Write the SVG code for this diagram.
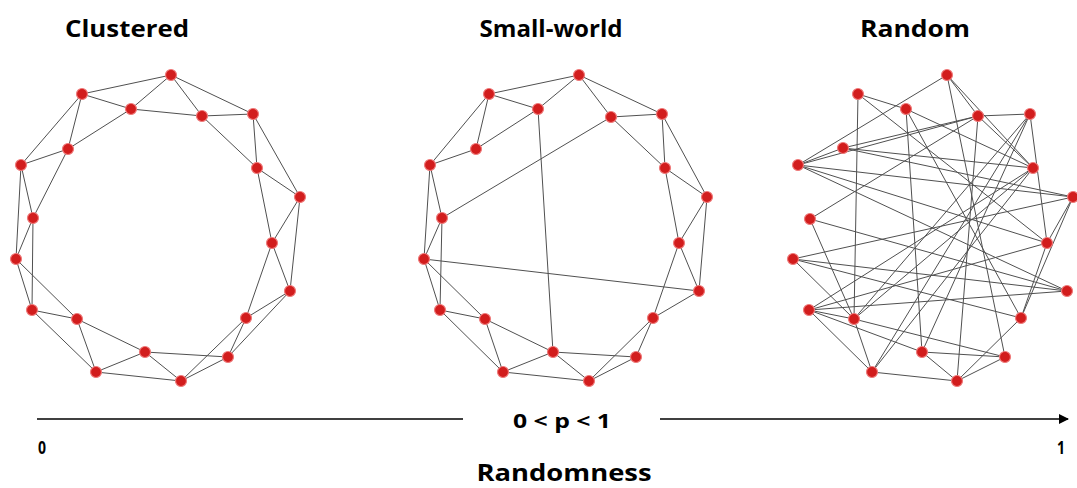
<svg xmlns="http://www.w3.org/2000/svg" width="1077" height="488" viewBox="0 0 1077 488">
<style>
.e{stroke:#505050;stroke-width:1;fill:none}
.n{fill:#d21d1d;stroke:#ef7a7a;stroke-width:1.2}
.t{font-family:"Open Sans","DejaVu Sans",sans-serif;font-weight:bold;fill:#000}
</style>
<defs>
<marker id="arr" markerWidth="10" markerHeight="10" refX="9" refY="5" orient="auto" markerUnits="userSpaceOnUse">
<path d="M0,0 L10,5 L0,10 Z" fill="#000"/>
</marker>
</defs>
<rect width="1077" height="488" fill="#fff"/>
<g id="titles">
<text class="t" x="127" y="37" font-size="23" text-anchor="middle" textLength="124" lengthAdjust="spacingAndGlyphs">Clustered</text>
<text class="t" x="551" y="37" font-size="23" text-anchor="middle" textLength="143" lengthAdjust="spacingAndGlyphs">Small-world</text>
<text class="t" x="915" y="37" font-size="23" text-anchor="middle" textLength="110" lengthAdjust="spacingAndGlyphs">Random</text>
</g>
<g id="connectors">
<!-- clustered -->
<path class="e" d="M171,75L202,116M171,75L253,114M202,116L253,114M202,116L257,168M253,114L257,168M253,114L300,197M257,168L300,197M257,168L272,243M300,197L272,243M300,197L290,291M272,243L290,291M272,243L246,318M290,291L246,318M290,291L228,357M246,318L228,357M246,318L181,381M228,357L181,381M228,357L145,352M181,381L145,352M181,381L96,372M145,352L96,372M145,352L77,319M96,372L77,319M96,372L32,310M77,319L32,310M77,319L16,259M32,310L16,259M32,310L33,218M16,259L33,218M16,259L21,165M33,218L21,165M33,218L68,149M21,165L68,149M21,165L82,94M68,149L82,94M68,149L131,109M82,94L131,109M82,94L171,75M131,109L171,75M131,109L202,116"/>
<!-- small-world -->
<path class="e" d="M579,75L489,94M579,75L538,109M579,75L611,117M579,75L662,114M489,94L538,109M489,94L476,149M489,94L430,165M538,109L476,149M538,109L553,352M611,117L662,114M611,117L665,168M611,117L442,218M662,114L665,168M662,114L707,197M665,168L707,197M665,168L679,243M707,197L679,243M707,197L699,291M679,243L699,291M679,243L653,318M699,291L653,318M699,291L424,259M653,318L636,357M653,318L589,381M636,357L589,381M636,357L553,352M589,381L553,352M589,381L503,372M553,352L503,372M553,352L485,319M503,372L485,319M503,372L440,310M485,319L440,310M485,319L424,259M440,310L424,259M440,310L442,218M424,259L442,218M424,259L430,165M442,218L430,165M430,165L476,149"/>
<!-- random -->
<path class="e" d="M947,75L798,165M947,75L978,116M947,75L1033,168M947,75L1005,357M858,94L854,319M858,94L906,109M858,94L1047,243M906,109L922,352M906,109L1033,168M906,109L1021,318M978,116L1030,114M978,116L798,165M978,116L1033,168M978,116L957,381M1030,114L854,319M1030,114L872,372M1030,114L1047,243M1030,114L922,352M843,148L798,165M843,148L1033,168M843,148L978,116M843,148L1073,197M798,165L1047,243M798,165L1067,291M810,219L978,116M810,219L1067,291M810,219L854,319M793,259L1073,197M793,259L1067,291M793,259L854,319M809,310L854,319M809,310L922,352M809,310L872,372M809,310L1033,168M809,310L1067,291M854,319L1005,357M854,319L872,372M854,319L1033,168M1047,243L1021,318M1047,243L1073,197M1021,318L957,381M1005,357L957,381M922,352L1005,357M922,352L957,381M872,372L957,381M1073,197L1021,318M798,165L1073,197M793,259L1021,318M809,310L1047,243M872,372L1033,168"/>
<!-- axis -->
<line x1="37" y1="419" x2="463" y2="419" stroke="#000" stroke-width="1.5"/>
<line x1="660" y1="419" x2="1068" y2="419" stroke="#000" stroke-width="1.5" marker-end="url(#arr)"/>
</g>
<g id="clustered">
<circle class="n" cx="171" cy="75" r="5.5"/><circle class="n" cx="82" cy="94" r="5.5"/><circle class="n" cx="131" cy="109" r="5.5"/><circle class="n" cx="202" cy="116" r="5.5"/><circle class="n" cx="253" cy="114" r="5.5"/><circle class="n" cx="68" cy="149" r="5.5"/><circle class="n" cx="21" cy="165" r="5.5"/><circle class="n" cx="257" cy="168" r="5.5"/><circle class="n" cx="300" cy="197" r="5.5"/><circle class="n" cx="33" cy="218" r="5.5"/><circle class="n" cx="272" cy="243" r="5.5"/><circle class="n" cx="16" cy="259" r="5.5"/><circle class="n" cx="290" cy="291" r="5.5"/><circle class="n" cx="32" cy="310" r="5.5"/><circle class="n" cx="77" cy="319" r="5.5"/><circle class="n" cx="246" cy="318" r="5.5"/><circle class="n" cx="145" cy="352" r="5.5"/><circle class="n" cx="228" cy="357" r="5.5"/><circle class="n" cx="96" cy="372" r="5.5"/><circle class="n" cx="181" cy="381" r="5.5"/>
</g>
<g id="small-world">
<circle class="n" cx="579" cy="75" r="5.5"/><circle class="n" cx="489" cy="94" r="5.5"/><circle class="n" cx="538" cy="109" r="5.5"/><circle class="n" cx="611" cy="117" r="5.5"/><circle class="n" cx="662" cy="114" r="5.5"/><circle class="n" cx="476" cy="149" r="5.5"/><circle class="n" cx="430" cy="165" r="5.5"/><circle class="n" cx="665" cy="168" r="5.5"/><circle class="n" cx="707" cy="197" r="5.5"/><circle class="n" cx="442" cy="218" r="5.5"/><circle class="n" cx="679" cy="243" r="5.5"/><circle class="n" cx="424" cy="259" r="5.5"/><circle class="n" cx="699" cy="291" r="5.5"/><circle class="n" cx="440" cy="310" r="5.5"/><circle class="n" cx="485" cy="319" r="5.5"/><circle class="n" cx="653" cy="318" r="5.5"/><circle class="n" cx="553" cy="352" r="5.5"/><circle class="n" cx="636" cy="357" r="5.5"/><circle class="n" cx="503" cy="372" r="5.5"/><circle class="n" cx="589" cy="381" r="5.5"/>
</g>
<g id="random">
<circle class="n" cx="947" cy="75" r="5.5"/><circle class="n" cx="858" cy="94" r="5.5"/><circle class="n" cx="906" cy="109" r="5.5"/><circle class="n" cx="978" cy="116" r="5.5"/><circle class="n" cx="1030" cy="114" r="5.5"/><circle class="n" cx="843" cy="148" r="5.5"/><circle class="n" cx="798" cy="165" r="5.5"/><circle class="n" cx="1033" cy="168" r="5.5"/><circle class="n" cx="1073" cy="197" r="5.5"/><circle class="n" cx="810" cy="219" r="5.5"/><circle class="n" cx="1047" cy="243" r="5.5"/><circle class="n" cx="793" cy="259" r="5.5"/><circle class="n" cx="1067" cy="291" r="5.5"/><circle class="n" cx="809" cy="310" r="5.5"/><circle class="n" cx="854" cy="319" r="5.5"/><circle class="n" cx="1021" cy="318" r="5.5"/><circle class="n" cx="922" cy="352" r="5.5"/><circle class="n" cx="1005" cy="357" r="5.5"/><circle class="n" cx="872" cy="372" r="5.5"/><circle class="n" cx="957" cy="381" r="5.5"/>
</g>
<g id="axis-labels">
<text class="t" x="562" y="428" font-size="20" text-anchor="middle" textLength="98" lengthAdjust="spacingAndGlyphs">0 &lt; p &lt; 1</text>
<text class="t" x="42" y="454" font-size="18" text-anchor="middle" textLength="8" lengthAdjust="spacingAndGlyphs">0</text>
<text class="t" x="1061" y="454" font-size="18" text-anchor="middle" textLength="8" lengthAdjust="spacingAndGlyphs">1</text>
<text class="t" x="564" y="481" font-size="24" text-anchor="middle" font-weight="600" textLength="175" lengthAdjust="spacingAndGlyphs">Randomness</text>
</g>
</svg>
